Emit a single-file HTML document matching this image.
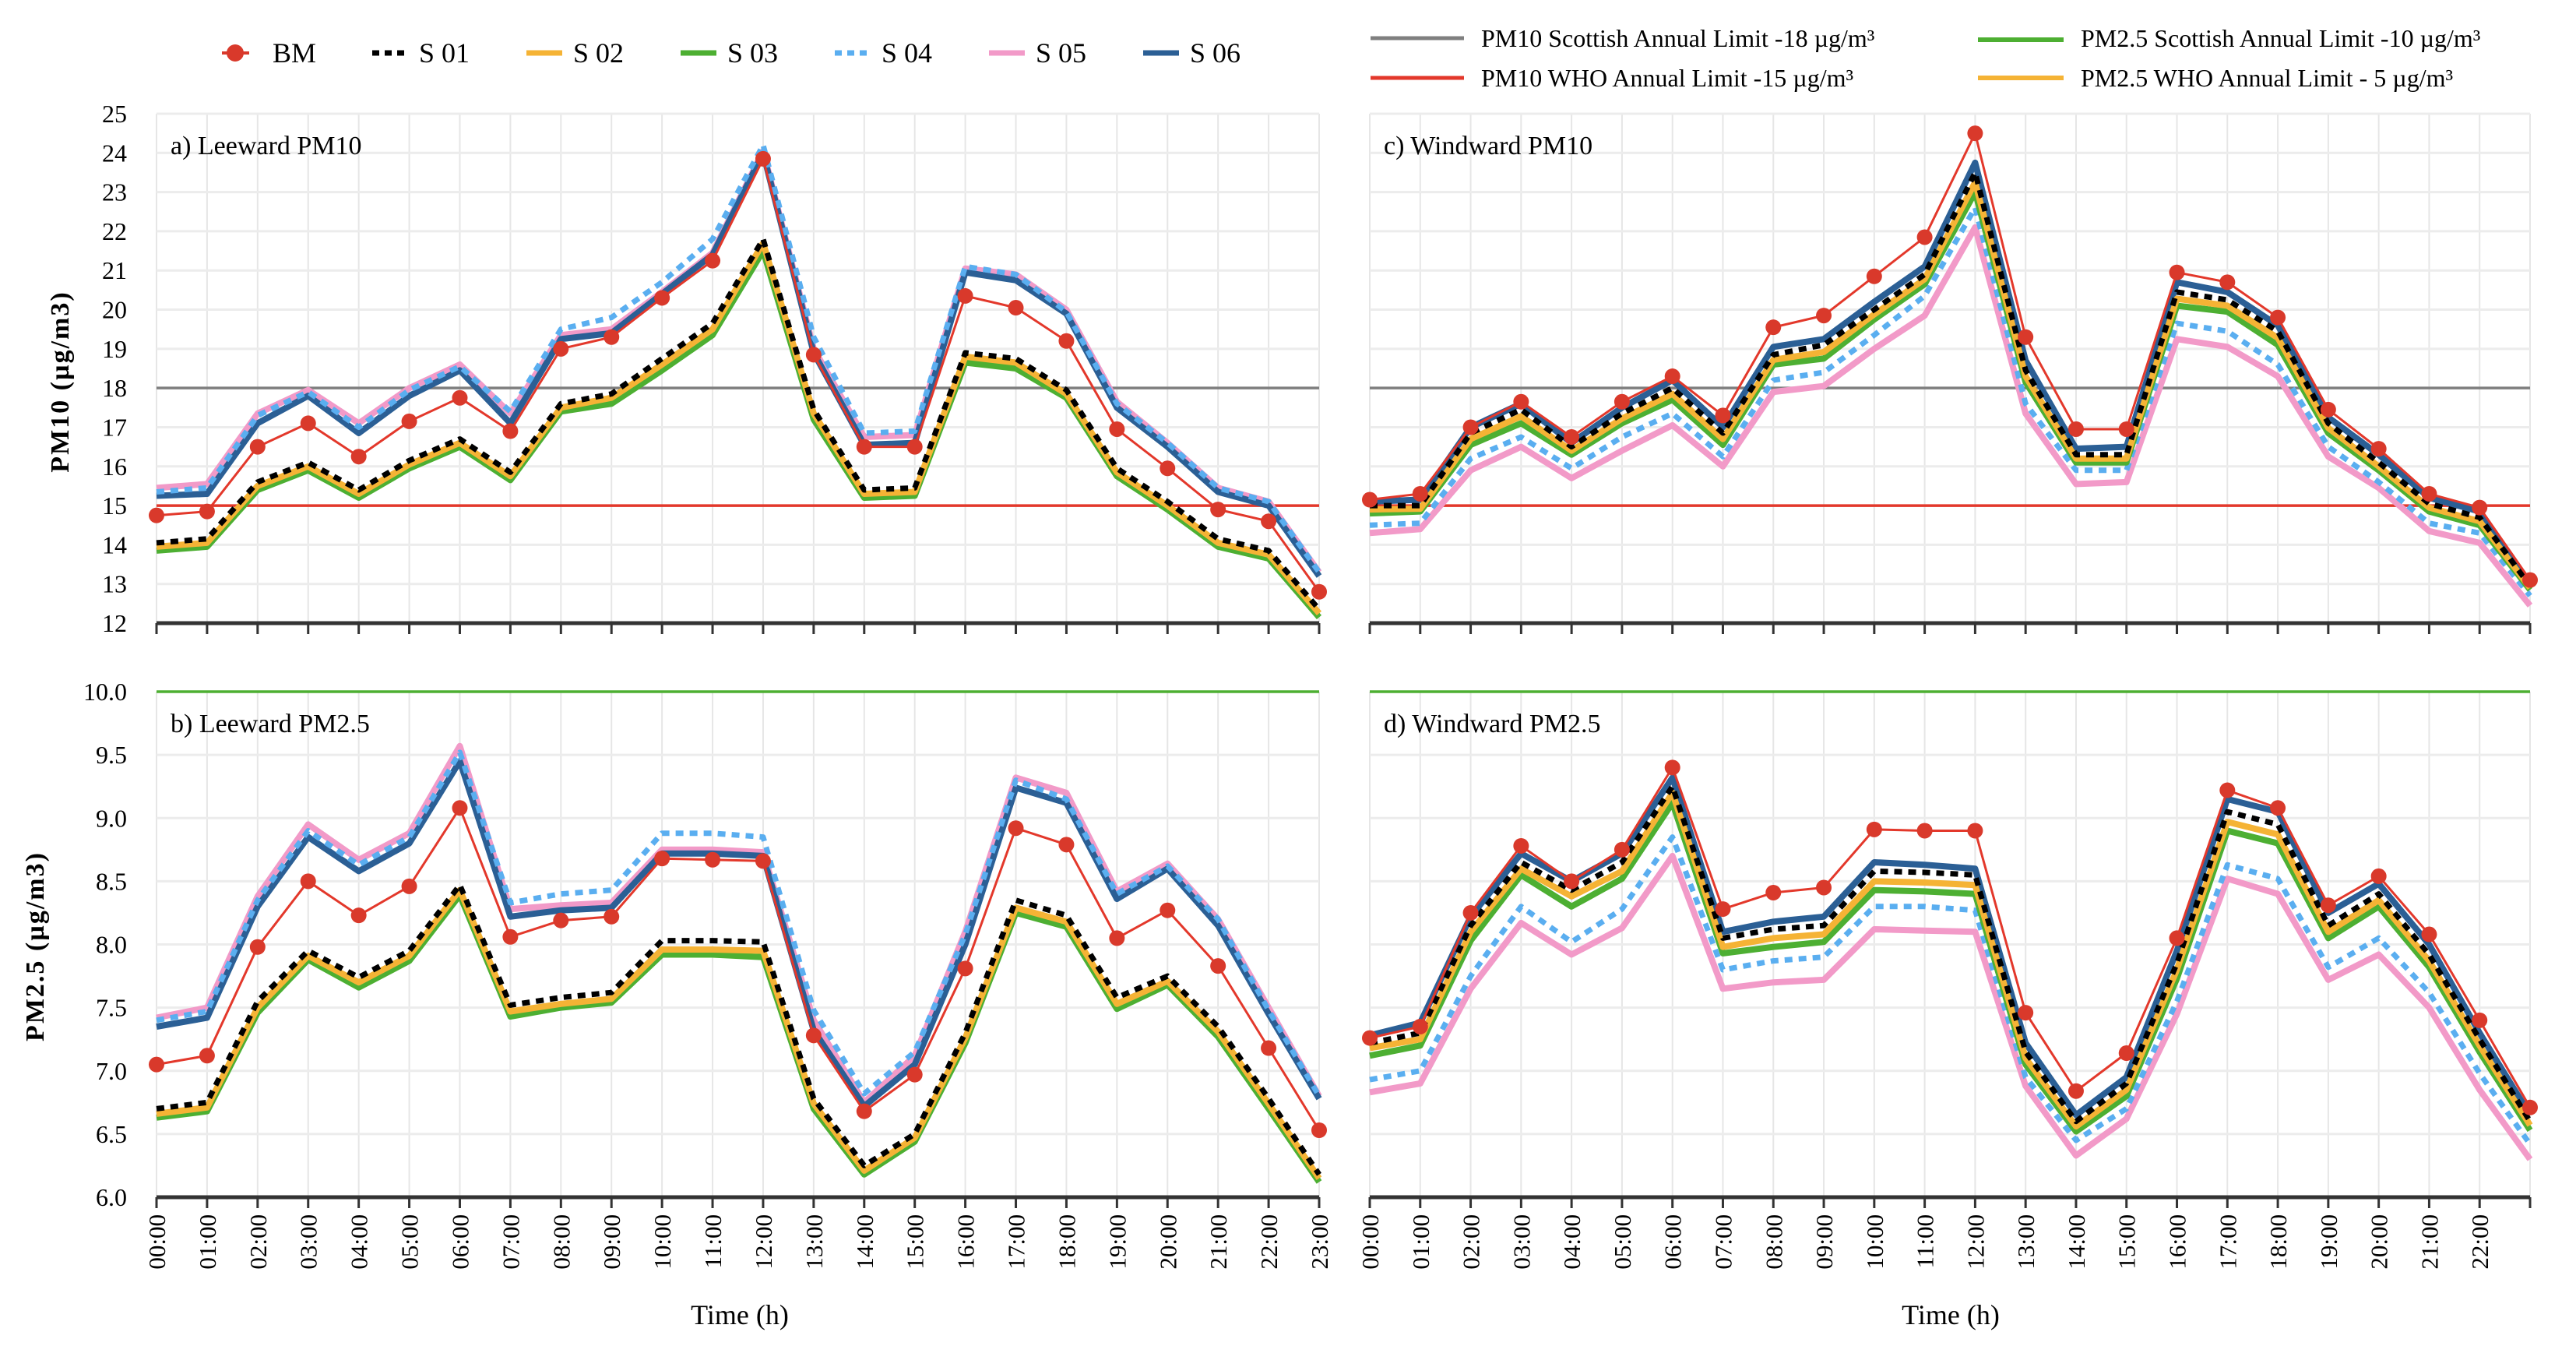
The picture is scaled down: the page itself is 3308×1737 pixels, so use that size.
<!DOCTYPE html>
<html><head><meta charset="utf-8">
<style>
html,body{margin:0;padding:0;background:#fff;}
svg{display:block;font-family:"Liberation Serif",serif;}
</style></head>
<body>
<svg id="chart" width="3308" height="1737" viewBox="0 0 3308 1737" xmlns="http://www.w3.org/2000/svg">
<rect x="0" y="0" width="3308" height="1737" fill="#fff"/>
<g id="legend-left">
  <line x1="285" y1="68" x2="320" y2="68" stroke="#d9392b" stroke-width="4"/>
  <circle cx="302" cy="68" r="11" fill="#d9392b"/>
  <text x="350" y="80" font-size="36">BM</text>
  <line x1="478" y1="68" x2="524" y2="68" stroke="#000" stroke-width="7" stroke-dasharray="9,7"/>
  <text x="538" y="80" font-size="36">S 01</text>
  <line x1="676" y1="68" x2="722" y2="68" stroke="#f5b335" stroke-width="7"/>
  <text x="736" y="80" font-size="36">S 02</text>
  <line x1="874" y1="68" x2="920" y2="68" stroke="#4daf32" stroke-width="7"/>
  <text x="934" y="80" font-size="36">S 03</text>
  <line x1="1072" y1="68" x2="1118" y2="68" stroke="#5aaef0" stroke-width="7" stroke-dasharray="9,7"/>
  <text x="1132" y="80" font-size="36">S 04</text>
  <line x1="1270" y1="68" x2="1316" y2="68" stroke="#f29ac8" stroke-width="7"/>
  <text x="1330" y="80" font-size="36">S 05</text>
  <line x1="1468" y1="68" x2="1514" y2="68" stroke="#2b5f95" stroke-width="7"/>
  <text x="1528" y="80" font-size="36">S 06</text>
</g>
<g id="legend-right">
  <line x1="1760" y1="49" x2="1880" y2="49" stroke="#7f7f7f" stroke-width="5"/>
  <text x="1902" y="60" font-size="32">PM10 Scottish Annual Limit -18 µg/m³</text>
  <line x1="1760" y1="100" x2="1880" y2="100" stroke="#e3382b" stroke-width="5"/>
  <text x="1902" y="111" font-size="32">PM10 WHO Annual Limit -15 µg/m³</text>
  <line x1="2540" y1="51" x2="2650" y2="51" stroke="#4daf32" stroke-width="6"/>
  <text x="2672" y="60" font-size="32">PM2.5 Scottish Annual Limit -10 µg/m³</text>
  <line x1="2540" y1="100" x2="2650" y2="100" stroke="#f5b335" stroke-width="6"/>
  <text x="2672" y="111" font-size="32">PM2.5 WHO Annual Limit - 5 µg/m³</text>
</g>
</svg>
<script>
const hours = ["00:00","01:00","02:00","03:00","04:00","05:00","06:00","07:00","08:00","09:00","10:00","11:00","12:00","13:00","14:00","15:00","16:00","17:00","18:00","19:00","20:00","21:00","22:00","23:00"];
const pm10Ticks = [12,13,14,15,16,17,18,19,20,21,22,23,24,25];
const pm25Ticks = [6.0,6.5,7.0,7.5,8.0,8.5,9.0,9.5,10.0];
const pm10Limits = [18, 15];
const pm25Limits = [10];

// a) Leeward PM10
const aBM  = [14.75,14.85,16.5,17.1,16.25,17.15,17.75,16.9,19.0,19.3,20.3,21.25,23.85,18.85,16.5,16.5,20.35,20.05,19.2,16.95,15.95,14.9,14.6,12.8];
const aS01 = [14.05,14.15,15.6,16.1,15.4,16.15,16.7,15.85,17.6,17.85,18.75,19.65,21.8,17.45,15.4,15.45,18.9,18.75,17.95,15.95,15.1,14.15,13.85,12.35];
const aS02 = [13.95,14.05,15.5,16.0,15.3,16.05,16.6,15.75,17.5,17.75,18.6,19.5,21.7,17.35,15.3,15.35,18.8,18.65,17.85,15.85,15.0,14.05,13.75,12.25];
const aS03 = [13.85,13.95,15.4,15.9,15.2,15.95,16.5,15.65,17.4,17.6,18.45,19.35,21.5,17.2,15.2,15.25,18.65,18.5,17.75,15.75,14.9,13.95,13.65,12.15];
const aS04 = [15.35,15.45,17.3,17.9,17.0,17.95,18.55,17.4,19.5,19.8,20.7,21.8,24.2,19.3,16.85,16.9,21.1,20.9,19.95,17.6,16.6,15.45,15.1,13.3];
const aS05 = [15.45,15.55,17.35,17.95,17.1,18.0,18.6,17.35,19.35,19.5,20.45,21.45,24.05,19.0,16.75,16.8,21.05,20.9,20.0,17.65,16.6,15.45,15.1,13.3];
const aS06 = [15.25,15.3,17.1,17.8,16.85,17.8,18.45,17.1,19.25,19.4,20.4,21.4,24.0,18.9,16.55,16.6,20.95,20.75,19.9,17.5,16.5,15.35,15.0,13.2];

// c) Windward PM10
const cBM  = [15.15,15.3,17.0,17.65,16.75,17.65,18.3,17.3,19.55,19.85,20.85,21.85,24.5,19.3,16.95,16.95,20.95,20.7,19.8,17.45,16.45,15.3,14.95,13.1];
const cS01 = [15.0,15.0,16.85,17.45,16.5,17.35,18.0,16.85,18.85,19.1,20.0,20.9,23.5,18.45,16.3,16.3,20.45,20.25,19.45,17.1,16.1,15.05,14.7,12.95];
const cS02 = [14.9,14.92,16.7,17.28,16.4,17.22,17.85,16.7,18.72,18.92,19.88,20.78,23.25,18.3,16.2,16.2,20.28,20.1,19.28,16.98,16.0,14.95,14.6,12.9];
const cS03 = [14.8,14.85,16.55,17.1,16.3,17.1,17.7,16.55,18.6,18.75,19.75,20.65,23.0,18.15,16.1,16.1,20.1,19.95,19.1,16.85,15.9,14.85,14.5,12.85];
const cS04 = [14.5,14.55,16.2,16.75,15.95,16.75,17.35,16.25,18.2,18.4,19.35,20.35,22.6,17.6,15.9,15.9,19.65,19.45,18.6,16.5,15.6,14.55,14.3,12.7];
const cS05 = [14.3,14.4,15.9,16.5,15.7,16.4,17.05,16.0,17.9,18.05,19.0,19.85,22.1,17.35,15.55,15.6,19.25,19.05,18.3,16.25,15.45,14.35,14.05,12.45];
const cS06 = [15.1,15.15,17.0,17.6,16.6,17.5,18.2,17.0,19.05,19.25,20.2,21.1,23.75,18.7,16.45,16.5,20.7,20.45,19.6,17.25,16.3,15.2,14.85,13.0];

// b) Leeward PM2.5
const bBM  = [7.05,7.12,7.98,8.5,8.23,8.46,9.08,8.06,8.19,8.22,8.68,8.67,8.66,7.28,6.68,6.97,7.81,8.92,8.79,8.05,8.27,7.83,7.18,6.53];
const bS01 = [6.7,6.75,7.55,7.95,7.74,7.95,8.47,7.52,7.58,7.62,8.03,8.03,8.02,6.78,6.25,6.5,7.3,8.35,8.23,7.58,7.75,7.35,6.78,6.18];
const bS02 = [6.66,6.71,7.5,7.91,7.7,7.91,8.43,7.47,7.53,7.57,7.96,7.96,7.95,6.74,6.21,6.47,7.26,8.29,8.18,7.53,7.71,7.31,6.74,6.15];
const bS03 = [6.63,6.68,7.46,7.88,7.66,7.87,8.39,7.43,7.5,7.54,7.92,7.92,7.9,6.7,6.18,6.44,7.22,8.25,8.14,7.49,7.68,7.27,6.7,6.12];
const bS04 = [7.4,7.47,8.35,8.9,8.63,8.85,9.52,8.33,8.4,8.43,8.88,8.88,8.85,7.48,6.82,7.15,8.08,9.3,9.15,8.4,8.62,8.2,7.48,6.8];
const bS05 = [7.42,7.5,8.38,8.95,8.67,8.88,9.57,8.28,8.31,8.33,8.75,8.75,8.73,7.4,6.75,7.12,8.1,9.32,9.2,8.42,8.64,8.2,7.5,6.8];
const bS06 = [7.35,7.42,8.3,8.85,8.58,8.8,9.45,8.22,8.27,8.29,8.72,8.72,8.7,7.32,6.72,7.05,8.0,9.24,9.12,8.36,8.6,8.15,7.45,6.78];

// d) Windward PM2.5
const dBM  = [7.26,7.35,8.25,8.78,8.5,8.75,9.4,8.28,8.41,8.45,8.91,8.9,8.9,7.46,6.84,7.14,8.05,9.22,9.08,8.31,8.54,8.08,7.4,6.71];
const dS01 = [7.22,7.3,8.15,8.65,8.43,8.65,9.25,8.05,8.12,8.15,8.58,8.57,8.55,7.15,6.6,6.9,7.85,9.05,8.95,8.15,8.4,7.92,7.25,6.6];
const dS02 = [7.18,7.25,8.1,8.6,8.38,8.58,9.2,7.98,8.05,8.08,8.5,8.49,8.47,7.1,6.56,6.85,7.8,8.97,8.87,8.1,8.35,7.87,7.2,6.57];
const dS03 = [7.12,7.2,8.03,8.55,8.3,8.52,9.12,7.93,7.98,8.02,8.43,8.42,8.4,7.05,6.52,6.8,7.73,8.9,8.8,8.05,8.3,7.82,7.15,6.53];
const dS04 = [6.93,7.0,7.75,8.3,8.02,8.28,8.85,7.8,7.87,7.9,8.3,8.3,8.27,6.95,6.45,6.7,7.55,8.63,8.52,7.82,8.05,7.62,6.98,6.42];
const dS05 = [6.83,6.9,7.65,8.17,7.92,8.13,8.7,7.65,7.7,7.72,8.12,8.11,8.1,6.88,6.33,6.62,7.45,8.52,8.4,7.72,7.92,7.5,6.85,6.3];
const dS06 = [7.28,7.38,8.22,8.72,8.5,8.72,9.32,8.1,8.18,8.22,8.65,8.63,8.6,7.22,6.65,6.95,7.95,9.15,9.05,8.25,8.48,8.0,7.3,6.65];

const NS = "http://www.w3.org/2000/svg";
const svg = document.getElementById("chart");
function mk(tag, attrs, parent){
  const e = document.createElementNS(NS, tag);
  for (const k in attrs) e.setAttribute(k, attrs[k]);
  (parent||svg).appendChild(e);
  return e;
}

const styles = {
  S05:{c:"#f29ac8",w:8,d:null},
  S06:{c:"#2b5f95",w:8,d:null},
  S04:{c:"#5aaef0",w:7,d:"10,8"},
  S03:{c:"#4daf32",w:8,d:null},
  S02:{c:"#f5b335",w:8,d:null},
  S01:{c:"#000000",w:7,d:"10,8"}
};

function panel(opt){
  const g = mk("g", {});
  
  
  const x = i => opt.x0 + (opt.x1 - opt.x0) * i / (hours.length - 1);
  const y = v => opt.y1 - (opt.y1 - opt.y0) * (v - opt.vmin) / (opt.vmax - opt.vmin);
  // grid
  hours.forEach((h,i)=>{
    const l = mk("line",{x1:x(i),x2:x(i),y1:opt.y0,y2:opt.y1,stroke:"#e6e6e6","stroke-width":2},g);
    
    
  });
  opt.ticks.forEach(t=>{
    const l = mk("line",{x1:opt.x0,x2:opt.x1,y1:y(t),y2:y(t),stroke:"#ececec","stroke-width":3},g);
    
    
    if (opt.showY){
      const tx = mk("text",{x:opt.x0-38,y:y(t)+11,"font-size":32,"text-anchor":"end"},g);
      tx.textContent = opt.dec ? t.toFixed(1) : String(t);
      
      
    }
  });
  // limit lines
  opt.limits.forEach((v,k)=>{
    const l = mk("line",{x1:opt.x0,x2:opt.x1,y1:y(v),y2:y(v),stroke:opt.limitColors[k],"stroke-width":3.5},g);
    
    
  });
  // bottom axis
  const ax = mk("line",{x1:opt.x0,x2:opt.x1,y1:opt.y1,y2:opt.y1,stroke:"#333","stroke-width":5},g);
  
  
  hours.forEach((h,i)=>{
    const tk = mk("line",{x1:x(i),x2:x(i),y1:opt.y1,y2:opt.y1+14,stroke:"#333","stroke-width":3},g);
    
    
    if (opt.showX && (opt.lastLabel || i < hours.length-1)){
      const tx = mk("text",{x:0,y:0,"font-size":31,"text-anchor":"end",transform:`translate(${x(i)+11},${opt.y1+22}) rotate(-90)`},g);
      tx.textContent = h;
      
      
    }
  });
  // series
  ["S05","S06","S04","S03","S02","S01"].forEach(k=>{
    const s = styles[k];
    const pts = opt.series[k].map((v,i)=>x(i).toFixed(1)+","+y(v).toFixed(1)).join(" ");
    const attrs = {points:pts,fill:"none",stroke:s.c,"stroke-width":s.w,"stroke-linejoin":"round"};
    if (s.d) attrs["stroke-dasharray"] = s.d;
    const pl = mk("polyline",attrs,g);
    
    
  });
  const bmPts = opt.series.BM.map((v,i)=>x(i).toFixed(1)+","+y(v).toFixed(1)).join(" ");
  const bml = mk("polyline",{points:bmPts,fill:"none",stroke:"#e3382b","stroke-width":3},g);
  
  
  opt.series.BM.forEach((v,i)=>{
    const c = mk("circle",{cx:x(i),cy:y(v),r:10,fill:"#d9392b"},g);
    
    
  });
  const ttl = mk("text",{x:opt.x0+18,y:opt.y0+52,"font-size":34},g);
  ttl.textContent = opt.title;
  
  
}

panel({name:"panel-a-leeward-pm10",x0:201,x1:1694,y0:146,y1:800,vmin:12,vmax:25,ticks:pm10Ticks,dec:false,showY:true,showX:false,
  limits:pm10Limits,limitColors:["#7f7f7f","#e3382b"],title:"a) Leeward PM10",
  series:{BM:aBM,S01:aS01,S02:aS02,S03:aS03,S04:aS04,S05:aS05,S06:aS06}});
panel({name:"panel-c-windward-pm10",x0:1759,x1:3249,y0:146,y1:800,vmin:12,vmax:25,ticks:pm10Ticks,dec:false,showY:false,showX:false,
  limits:pm10Limits,limitColors:["#7f7f7f","#e3382b"],title:"c) Windward PM10",
  series:{BM:cBM,S01:cS01,S02:cS02,S03:cS03,S04:cS04,S05:cS05,S06:cS06}});
panel({name:"panel-b-leeward-pm25",x0:201,x1:1694,y0:888,y1:1537,vmin:6,vmax:10,ticks:pm25Ticks,dec:true,showY:true,showX:true,lastLabel:true,
  limits:pm25Limits,limitColors:["#4daf32"],title:"b) Leeward PM2.5",
  series:{BM:bBM,S01:bS01,S02:bS02,S03:bS03,S04:bS04,S05:bS05,S06:bS06}});
panel({name:"panel-d-windward-pm25",x0:1759,x1:3249,y0:888,y1:1537,vmin:6,vmax:10,ticks:pm25Ticks,dec:true,showY:false,showX:true,lastLabel:false,
  limits:pm25Limits,limitColors:["#4daf32"],title:"d) Windward PM2.5",
  series:{BM:dBM,S01:dS01,S02:dS02,S03:dS03,S04:dS04,S05:dS05,S06:dS06}});

// axis titles
const t1 = mk("text",{x:0,y:0,"font-size":34,"font-weight":"bold","text-anchor":"middle",transform:"translate(88,490) rotate(-90)","letter-spacing":"2"});
t1.textContent = "PM10  (µg/m3)";


const t2 = mk("text",{x:0,y:0,"font-size":34,"font-weight":"bold","text-anchor":"middle",transform:"translate(56,1215) rotate(-90)","letter-spacing":"2"});
t2.textContent = "PM2.5  (µg/m3)";


const t3 = mk("text",{x:950,y:1700,"font-size":36,"text-anchor":"middle"});
t3.textContent = "Time (h)";


const t4 = mk("text",{x:2505,y:1700,"font-size":36,"text-anchor":"middle"});
t4.textContent = "Time (h)";


</script>
</body></html>
